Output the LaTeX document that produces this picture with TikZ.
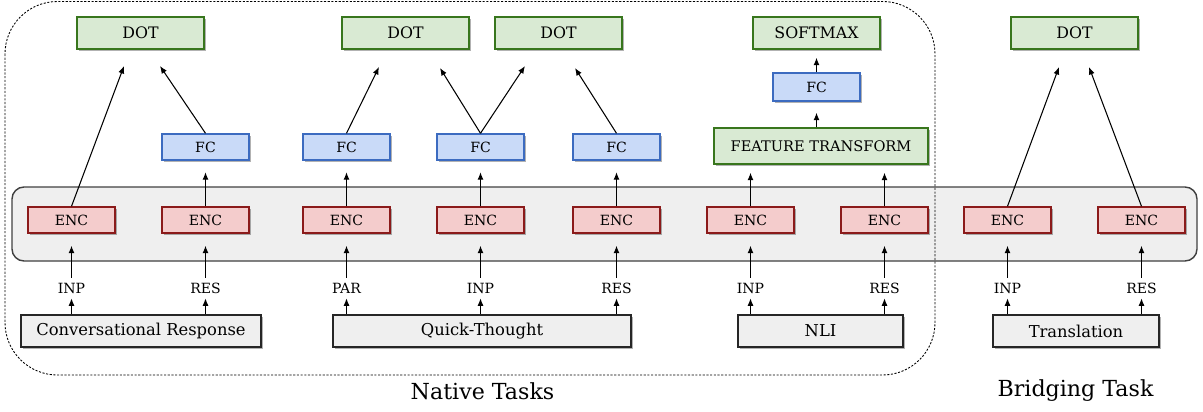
\documentclass[tikz,border=0pt]{standalone}
\usepackage{fontspec}
\setmainfont{DejaVu Serif}
\usepackage{tikz}
\usetikzlibrary{arrows.meta,shadows}

\definecolor{dotfill}{HTML}{D9EAD3}
\definecolor{dotline}{HTML}{38761D}
\definecolor{fcfill}{HTML}{C9DAF8}
\definecolor{fcline}{HTML}{3C6BC0}
\definecolor{encfill}{HTML}{F4CCCC}
\definecolor{encline}{HTML}{8B1A1A}
\definecolor{taskfill}{HTML}{EFEFEF}

\begin{document}
\begin{tikzpicture}[x=0.02cm, y=-0.02cm,
    >={Latex[length=1.5mm,width=1.2mm]},
    shade/.style={drop shadow={shadow xshift=0.035cm, shadow yshift=-0.035cm, fill=black, opacity=0.3}},
    dotbox/.style={shade, draw=dotline, fill=dotfill, line width=0.8pt, minimum width=2.54cm, minimum height=0.64cm, inner sep=0pt, font=\fontsize{9}{10}\selectfont},
    fcbox/.style={shade, draw=fcline, fill=fcfill, line width=0.8pt, minimum width=1.74cm, minimum height=0.52cm, inner sep=0pt, font=\fontsize{8}{9}\selectfont},
    encbox/.style={shade, draw=encline, fill=encfill, line width=0.8pt, minimum width=1.74cm, minimum height=0.52cm, inner sep=0pt, font=\fontsize{8}{9}\selectfont},
    taskbox/.style={shade, draw=black!85, fill=taskfill, line width=0.8pt, minimum height=0.64cm, inner sep=0pt, font=\fontsize{9.3}{10}\selectfont},
    lbl/.style={inner sep=0.1cm, text height=0.2cm, text depth=0pt, font=\fontsize{8}{9}\selectfont},
    title/.style={inner sep=0pt, font=\fontsize{12.6}{14}\selectfont},
    link/.style={->, line width=0.6pt},
    gap/.style={shorten >=#1}]

    \useasboundingbox (0,0) rectangle (1203,412);

    % Shared encoder band
    \draw[fill=taskfill, draw=black!75, line width=0.8pt, rounded corners=0.24cm] (12,187) rectangle (1197,261);

    % Native tasks frame
    \draw[dash pattern=on 1.2pt off 0.9pt, line width=0.5pt, rounded corners=1.05cm] (5,1.5) rectangle (935,375);

    % Task boxes
    \node[taskbox, minimum width=4.8cm] (conv) at (141,331) {Conversational Response};
    \node[taskbox, minimum width=5.96cm] (qt) at (482,331) {Quick-Thought};
    \node[taskbox, minimum width=3.3cm] (nli) at (820.5,331) {NLI};
    \node[taskbox, minimum width=3.32cm] (trans) at (1076,331) {Translation};

    % Encoders
    \node[encbox] (enc1) at (71.5,220) {ENC};
    \node[encbox] (enc2) at (205.5,220) {ENC};
    \node[encbox] (enc3) at (346.5,220) {ENC};
    \node[encbox] (enc4) at (480.5,220) {ENC};
    \node[encbox] (enc5) at (616.5,220) {ENC};
    \node[encbox] (enc6) at (750.5,220) {ENC};
    \node[encbox] (enc7) at (884.5,220) {ENC};
    \node[encbox] (enc8) at (1007.5,220) {ENC};
    \node[encbox] (enc9) at (1141.5,220) {ENC};

    % Input labels
    \node[lbl] (inp1) at (71.5,288) {INP};
    \node[lbl] (res1) at (205.5,288) {RES};
    \node[lbl] (par2) at (346.5,288) {PAR};
    \node[lbl] (inp2) at (480.5,288) {INP};
    \node[lbl] (res2) at (616.5,288) {RES};
    \node[lbl] (inp3) at (750.5,288) {INP};
    \node[lbl] (res3) at (884.5,288) {RES};
    \node[lbl] (inp4) at (1007.5,288) {INP};
    \node[lbl] (res4) at (1141.5,288) {RES};

    % Task -> label -> encoder
    \foreach \lab/\task/\enc in {inp1/conv/enc1, res1/conv/enc2, par2/qt/enc3, inp2/qt/enc4, res2/qt/enc5, inp3/nli/enc6, res3/nli/enc7, inp4/trans/enc8, res4/trans/enc9}{
        \draw[link] (\task.north -| \lab.south) -- (\lab.south);
        \draw[link, gap=0.24cm] (\lab.north) -- (\enc.south);
    }

    % FC layers
    \node[fcbox] (fc1) at (205.5,147) {FC};
    \node[fcbox] (fc2) at (346.5,147) {FC};
    \node[fcbox] (fc3) at (480.5,147) {FC};
    \node[fcbox] (fc4) at (616.5,147) {FC};
    \draw[link, gap=0.23cm] (enc2.north) -- (fc1.south);
    \draw[link, gap=0.23cm] (enc3.north) -- (fc2.south);
    \draw[link, gap=0.23cm] (enc4.north) -- (fc3.south);
    \draw[link, gap=0.23cm] (enc5.north) -- (fc4.south);

    % Scoring heads
    \node[dotbox] (dot1) at (140.5,33) {DOT};
    \node[dotbox] (dot2) at (405.5,33) {DOT};
    \node[dotbox] (dot3) at (558.5,33) {DOT};
    \node[dotbox] (soft) at (816.5,33) {SOFTMAX};
    \node[dotbox] (dot4) at (1074.5,33) {DOT};

    % Arrow ends below the heads
    \coordinate (d1a) at (124,66);
    \coordinate (d1b) at (160,66);
    \coordinate (d2a) at (379,67);
    \coordinate (d2b) at (440,68);
    \coordinate (d3a) at (525,66);
    \coordinate (d3b) at (575,68);
    \coordinate (d4a) at (1059,67);
    \coordinate (d4b) at (1089,67);

    \draw[link] (enc1.north) -- (d1a);
    \draw[link] (fc1.north) -- (d1b);
    \draw[link] (fc2.north) -- (d2a);
    \draw[link] (fc3.north) -- (d2b);
    \draw[link] (fc3.north) -- (d3a);
    \draw[link] (fc4.north) -- (d3b);
    \draw[link] (enc8.north) -- (d4a);
    \draw[link] (enc9.north) -- (d4b);

    % NLI head
    \node[dotbox, minimum width=4.28cm, minimum height=0.72cm, font=\fontsize{8.3}{9}\selectfont] (feat) at (821,146) {FEATURE TRANSFORM};
    \node[fcbox, minimum height=0.56cm] (fc5) at (816.5,87) {FC};
    \draw[link, gap=0.16cm] (enc6.north) -- (enc6.north |- feat.south);
    \draw[link, gap=0.16cm] (enc7.north) -- (enc7.north |- feat.south);
    \draw[link, gap=0.22cm] (feat.north -| fc5.south) -- (fc5.south);
    \draw[link, gap=0.16cm] (fc5.north) -- (soft.south);

    % Group titles
    \node[title] (native) at (482.5,391) {Native Tasks};
    \node[title] (bridge) at (1075.5,391) {Bridging Task};
\end{tikzpicture}
\end{document}
